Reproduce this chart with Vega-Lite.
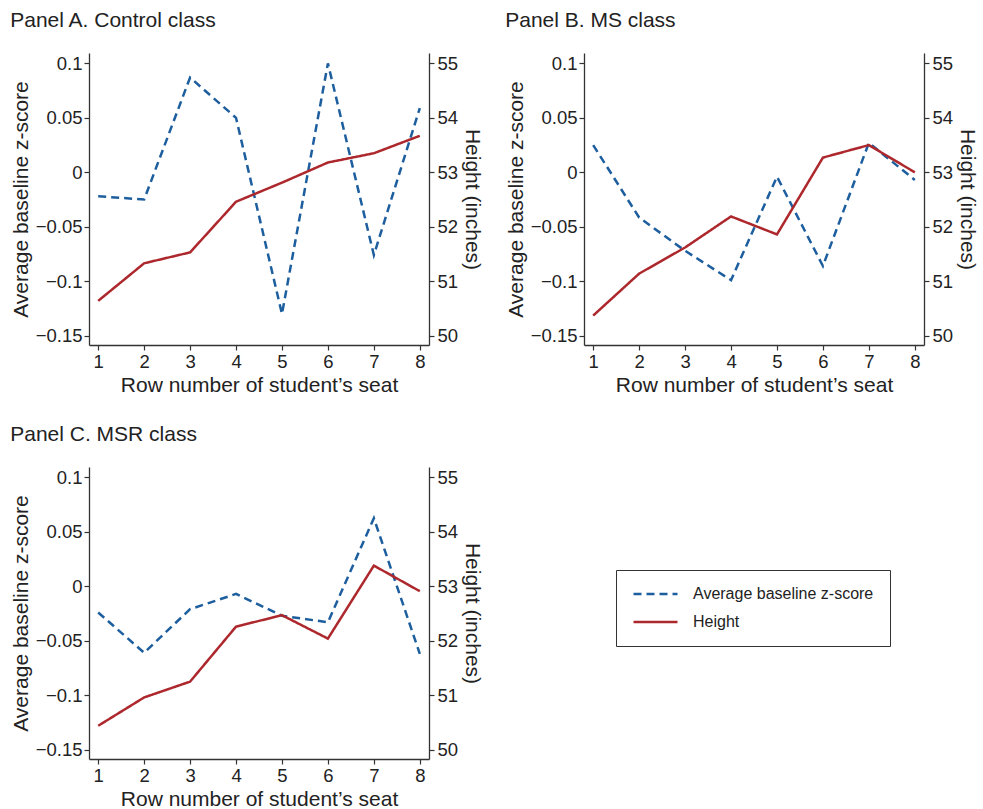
{
  "$schema": "https://vega.github.io/schema/vega-lite/v6.json",
  "padding": {"left": 10, "top": 10, "right": 5, "bottom": 5},
  "config": {
    "view": {"stroke": null},
    "font": "Liberation Sans",
    "title": {"anchor": "start", "frame": "bounds", "fontSize": 21, "fontWeight": "normal", "font": "Liberation Sans", "color": "#222", "offset": 22},
    "axis": {
      "grid": false, "domainColor": "#333", "tickColor": "#333", "labelColor": "#222", "titleColor": "#222",
      "labelFont": "Liberation Sans", "titleFont": "Liberation Sans", "labelFontSize": 18.5, "titleFontSize": 21,
      "titleFontWeight": "normal", "tickSize": 5, "labelPadding": 2, "domainWidth": 1.3, "tickWidth": 1.2
    },
    "legend": {
      "orient": "none", "legendX": 527, "legendY": 517,
      "strokeColor": "#333", "padding": 16, "clipHeight": 16, "rowPadding": 12,
      "symbolType": "stroke", "symbolSize": 1936, "symbolStrokeWidth": 2.5,
      "labelFontSize": 16, "labelFont": "Liberation Sans", "labelColor": "#222", "labelOffset": 14, "labelLimit": 400
    }
  },
  "datasets": {
    "d": [
      {"panel": "A", "row": 1, "series": "Average baseline z-score", "value": -0.022},
      {"panel": "A", "row": 2, "series": "Average baseline z-score", "value": -0.025},
      {"panel": "A", "row": 3, "series": "Average baseline z-score", "value": 0.087},
      {"panel": "A", "row": 4, "series": "Average baseline z-score", "value": 0.050},
      {"panel": "A", "row": 5, "series": "Average baseline z-score", "value": -0.130},
      {"panel": "A", "row": 6, "series": "Average baseline z-score", "value": 0.100},
      {"panel": "A", "row": 7, "series": "Average baseline z-score", "value": -0.076},
      {"panel": "A", "row": 8, "series": "Average baseline z-score", "value": 0.059},
      {"panel": "A", "row": 1, "series": "Height", "value": 50.64},
      {"panel": "A", "row": 2, "series": "Height", "value": 51.33},
      {"panel": "A", "row": 3, "series": "Height", "value": 51.53},
      {"panel": "A", "row": 4, "series": "Height", "value": 52.46},
      {"panel": "A", "row": 5, "series": "Height", "value": 52.81},
      {"panel": "A", "row": 6, "series": "Height", "value": 53.18},
      {"panel": "A", "row": 7, "series": "Height", "value": 53.35},
      {"panel": "A", "row": 8, "series": "Height", "value": 53.67},
      {"panel": "B", "row": 1, "series": "Average baseline z-score", "value": 0.025},
      {"panel": "B", "row": 2, "series": "Average baseline z-score", "value": -0.0415},
      {"panel": "B", "row": 3, "series": "Average baseline z-score", "value": -0.072},
      {"panel": "B", "row": 4, "series": "Average baseline z-score", "value": -0.099},
      {"panel": "B", "row": 5, "series": "Average baseline z-score", "value": -0.004},
      {"panel": "B", "row": 6, "series": "Average baseline z-score", "value": -0.086},
      {"panel": "B", "row": 7, "series": "Average baseline z-score", "value": 0.027},
      {"panel": "B", "row": 8, "series": "Average baseline z-score", "value": -0.007},
      {"panel": "B", "row": 1, "series": "Height", "value": 50.37},
      {"panel": "B", "row": 2, "series": "Height", "value": 51.14},
      {"panel": "B", "row": 3, "series": "Height", "value": 51.62},
      {"panel": "B", "row": 4, "series": "Height", "value": 52.19},
      {"panel": "B", "row": 5, "series": "Height", "value": 51.86},
      {"panel": "B", "row": 6, "series": "Height", "value": 53.27},
      {"panel": "B", "row": 7, "series": "Height", "value": 53.50},
      {"panel": "B", "row": 8, "series": "Height", "value": 53.00},
      {"panel": "C", "row": 1, "series": "Average baseline z-score", "value": -0.024},
      {"panel": "C", "row": 2, "series": "Average baseline z-score", "value": -0.061},
      {"panel": "C", "row": 3, "series": "Average baseline z-score", "value": -0.021},
      {"panel": "C", "row": 4, "series": "Average baseline z-score", "value": -0.007},
      {"panel": "C", "row": 5, "series": "Average baseline z-score", "value": -0.027},
      {"panel": "C", "row": 6, "series": "Average baseline z-score", "value": -0.033},
      {"panel": "C", "row": 7, "series": "Average baseline z-score", "value": 0.0625},
      {"panel": "C", "row": 8, "series": "Average baseline z-score", "value": -0.062},
      {"panel": "C", "row": 1, "series": "Height", "value": 50.44},
      {"panel": "C", "row": 2, "series": "Height", "value": 50.96},
      {"panel": "C", "row": 3, "series": "Height", "value": 51.25},
      {"panel": "C", "row": 4, "series": "Height", "value": 52.26},
      {"panel": "C", "row": 5, "series": "Height", "value": 52.47},
      {"panel": "C", "row": 6, "series": "Height", "value": 52.04},
      {"panel": "C", "row": 7, "series": "Height", "value": 53.38},
      {"panel": "C", "row": 8, "series": "Height", "value": 52.91}
    ]
  },
  "data": {"name": "d"},
  "columns": 2,
  "spacing": {"row": 28, "column": 22},
  "concat": [
    {
      "title": "Panel A. Control class",
      "width": 340, "height": 292,
      "transform": [{"filter": "datum.panel === 'A'"}],
      "layer": [
        {
          "transform": [{"filter": "datum.series === 'Average baseline z-score'"}],
          "mark": {"type": "line", "strokeWidth": 2.5},
          "encoding": {
            "x": {"field": "row", "type": "quantitative", "scale": {"domain": [0.8, 8.2], "nice": false, "zero": false}, "axis": {"values": [1, 2, 3, 4, 5, 6, 7, 8], "format": "d", "title": "Row number of student’s seat"}},
            "y": {"field": "value", "type": "quantitative", "scale": {"domain": [-0.1585, 0.1095], "nice": false, "zero": false}, "axis": {"orient": "left", "values": [-0.15, -0.1, -0.05, 0, 0.05, 0.1], "format": "~g", "title": "Average baseline z-score"}},
            "color": {"field": "series", "type": "nominal", "scale": {"domain": ["Average baseline z-score", "Height"], "range": ["#1d5e9e", "#ad282d"]}, "legend": {"title": null}},
            "strokeDash": {"field": "series", "type": "nominal", "scale": {"domain": ["Average baseline z-score", "Height"], "range": [[8, 5], [1, 0]]}, "legend": {"title": null}}
          }
        },
        {
          "transform": [{"filter": "datum.series === 'Height'"}],
          "mark": {"type": "line", "strokeWidth": 2.5},
          "encoding": {
            "x": {"field": "row", "type": "quantitative"},
            "y": {"field": "value", "type": "quantitative", "scale": {"domain": [49.83, 55.19], "nice": false, "zero": false}, "axis": {"orient": "right", "values": [50, 51, 52, 53, 54, 55], "format": "d", "title": "Height (inches)", "labelPadding": 3}},
            "color": {"field": "series", "type": "nominal", "legend": {"title": null}},
            "strokeDash": {"field": "series", "type": "nominal", "legend": {"title": null}}
          }
        }
      ],
      "resolve": {"scale": {"y": "independent"}}
    },
    {
      "title": "Panel B. MS class",
      "width": 340, "height": 292,
      "transform": [{"filter": "datum.panel === 'B'"}],
      "layer": [
        {
          "transform": [{"filter": "datum.series === 'Average baseline z-score'"}],
          "mark": {"type": "line", "strokeWidth": 2.5},
          "encoding": {
            "x": {"field": "row", "type": "quantitative", "scale": {"domain": [0.8, 8.2], "nice": false, "zero": false}, "axis": {"values": [1, 2, 3, 4, 5, 6, 7, 8], "format": "d", "title": "Row number of student’s seat"}},
            "y": {"field": "value", "type": "quantitative", "scale": {"domain": [-0.1585, 0.1095], "nice": false, "zero": false}, "axis": {"orient": "left", "values": [-0.15, -0.1, -0.05, 0, 0.05, 0.1], "format": "~g", "title": "Average baseline z-score"}},
            "color": {"field": "series", "type": "nominal", "legend": {"title": null}},
            "strokeDash": {"field": "series", "type": "nominal", "legend": {"title": null}}
          }
        },
        {
          "transform": [{"filter": "datum.series === 'Height'"}],
          "mark": {"type": "line", "strokeWidth": 2.5},
          "encoding": {
            "x": {"field": "row", "type": "quantitative"},
            "y": {"field": "value", "type": "quantitative", "scale": {"domain": [49.83, 55.19], "nice": false, "zero": false}, "axis": {"orient": "right", "values": [50, 51, 52, 53, 54, 55], "format": "d", "title": "Height (inches)", "labelPadding": 3}},
            "color": {"field": "series", "type": "nominal", "legend": {"title": null}},
            "strokeDash": {"field": "series", "type": "nominal", "legend": {"title": null}}
          }
        }
      ],
      "resolve": {"scale": {"y": "independent"}}
    },
    {
      "title": "Panel C. MSR class",
      "width": 340, "height": 292,
      "transform": [{"filter": "datum.panel === 'C'"}],
      "layer": [
        {
          "transform": [{"filter": "datum.series === 'Average baseline z-score'"}],
          "mark": {"type": "line", "strokeWidth": 2.5},
          "encoding": {
            "x": {"field": "row", "type": "quantitative", "scale": {"domain": [0.8, 8.2], "nice": false, "zero": false}, "axis": {"values": [1, 2, 3, 4, 5, 6, 7, 8], "format": "d", "title": "Row number of student’s seat"}},
            "y": {"field": "value", "type": "quantitative", "scale": {"domain": [-0.1585, 0.1095], "nice": false, "zero": false}, "axis": {"orient": "left", "values": [-0.15, -0.1, -0.05, 0, 0.05, 0.1], "format": "~g", "title": "Average baseline z-score"}},
            "color": {"field": "series", "type": "nominal", "legend": {"title": null}},
            "strokeDash": {"field": "series", "type": "nominal", "legend": {"title": null}}
          }
        },
        {
          "transform": [{"filter": "datum.series === 'Height'"}],
          "mark": {"type": "line", "strokeWidth": 2.5},
          "encoding": {
            "x": {"field": "row", "type": "quantitative"},
            "y": {"field": "value", "type": "quantitative", "scale": {"domain": [49.83, 55.19], "nice": false, "zero": false}, "axis": {"orient": "right", "values": [50, 51, 52, 53, 54, 55], "format": "d", "title": "Height (inches)", "labelPadding": 3}},
            "color": {"field": "series", "type": "nominal", "legend": {"title": null}},
            "strokeDash": {"field": "series", "type": "nominal", "legend": {"title": null}}
          }
        }
      ],
      "resolve": {"scale": {"y": "independent"}}
    }
  ]
}
